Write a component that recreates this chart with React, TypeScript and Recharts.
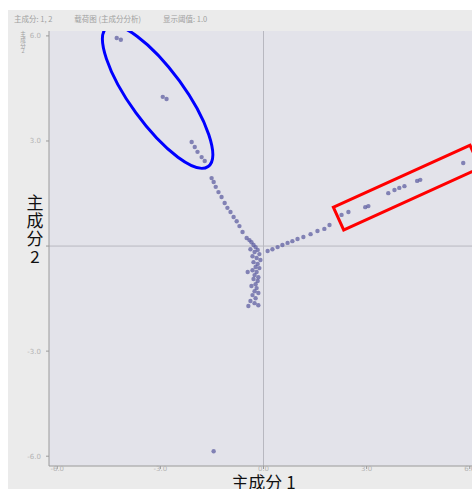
import React from "react";
import { ScatterChart, Scatter, XAxis, YAxis, CartesianGrid, ReferenceLine } from "recharts";

const blueGroupX = [-4.27, -4.15, -2.93, -2.82, -2.09, -2.0, -1.92, -1.8, -1.71];
const blueGroupY = [5.94, 5.89, 4.26, 4.2, 2.97, 2.83, 2.69, 2.54, 2.43];

const trailX = [-1.51, -1.45, -1.39, -1.31, -1.22, -1.13, -1.05, -0.96, -0.87, -0.78, -0.7, -0.61, -0.49];
const trailY = [1.94, 1.83, 1.69, 1.54, 1.4, 1.23, 1.09, 0.97, 0.83, 0.71, 0.57, 0.4, 0.23];

const clusterX = [-0.41, -0.35, -0.29, -0.23, -0.38, -0.17, -0.26, -0.12, -0.32, -0.2, -0.09, -0.29, -0.17, -0.23, -0.12, -0.32, -0.2, -0.26, -0.15, -0.29, -0.17, -0.23, -0.35, -0.2, -0.26, -0.15, -0.32, -0.23, -0.38, -0.26, -0.44, -0.15, -0.46];
const clusterY = [0.17, 0.11, 0.03, -0.03, -0.09, -0.11, -0.17, -0.23, -0.29, -0.34, -0.4, -0.46, -0.51, -0.6, -0.63, -0.69, -0.74, -0.83, -0.89, -0.94, -1.0, -1.09, -1.14, -1.2, -1.29, -1.34, -1.4, -1.49, -1.57, -1.63, -1.71, -1.69, -0.74];

const rightArmX = [0.12, 0.26, 0.41, 0.55, 0.7, 0.84, 0.99, 1.16, 1.37, 1.57, 1.77, 1.92];
const rightArmY = [-0.14, -0.09, -0.03, 0.03, 0.09, 0.14, 0.2, 0.26, 0.34, 0.43, 0.49, 0.6];

const redGroupX = [2.27, 2.47, 2.96, 3.05, 3.63, 3.81, 3.95, 4.1, 4.47, 4.56, 5.81];
const redGroupY = [0.89, 0.97, 1.11, 1.14, 1.51, 1.6, 1.66, 1.71, 1.86, 1.89, 2.37];

const outlierX = [-1.45];
const outlierY = [-5.86];

const xTicks = [-6, -3, 0, 3, 6];
const yTicks = [-6, -3, 0, 3, 6];

const ellipseCenter = [{ x: -3.08, y: 4.26 }];
const boxCenter = [{ x: 4.17, y: 1.67 }];

const headerParts = ["主成分: 1, 2", "载荷图 (主成分分析)", "显示阈值: 1.0"];
const xLabel = "主成分 1";
const yLabelChars = ["主", "成", "分", "2"];
const miniYLabelChars = ["主", "成", "分", "2"];

const zip = (xs: number[], ys: number[]) => xs.map((x, i) => ({ x, y: ys[i] }));

const points = [
  ...zip(blueGroupX, blueGroupY),
  ...zip(trailX, trailY),
  ...zip(clusterX, clusterY),
  ...zip(rightArmX, rightArmY),
  ...zip(redGroupX, redGroupY),
  ...zip(outlierX, outlierY),
];

const Dot = (props: any) => {
  const { cx, cy } = props;
  if (cx == null || cy == null) return null;
  return <circle cx={cx} cy={cy} r={2.2} fill="#5c5ca0" fillOpacity={0.72} />;
};

const EllipseShape = (props: any) => {
  const { cx, cy } = props;
  if (cx == null || cy == null) return null;
  return (
    <ellipse
      cx={cx}
      cy={cy}
      rx={86}
      ry={27}
      transform={`rotate(54 ${cx} ${cy})`}
      fill="none"
      stroke="#0000ff"
      strokeWidth={3}
    />
  );
};

const BoxShape = (props: any) => {
  const { cx, cy } = props;
  if (cx == null || cy == null) return null;
  const w = 150;
  const h = 25;
  return (
    <rect
      x={cx - w / 2}
      y={cy - h / 2}
      width={w}
      height={h}
      transform={`rotate(-24.4 ${cx} ${cy})`}
      fill="none"
      stroke="#ff0000"
      strokeWidth={3}
    />
  );
};

const YLabel = (props: any) => {
  const vb = props.viewBox || { x: 0, y: 21, width: 41, height: 435 };
  const x = 27;
  const startY = vb.y + 178;
  return (
    <g>
      {yLabelChars.map((c, i) => (
        <text
          key={i}
          x={x}
          y={startY + i * 18}
          textAnchor="middle"
          fontSize={17}
          fill="#111"
          fontFamily="'Noto Sans CJK SC', sans-serif"
        >
          {c}
        </text>
      ))}
      <text x={15} y={vb.y + 5} textAnchor="middle" fontSize={5.5} fill="#a0a0a0" fontFamily="'Noto Sans CJK SC', sans-serif">
        {miniYLabelChars.map((c, i) => (
          <tspan key={i} x={15} dy={i === 0 ? 0 : 5.8}>
            {c}
          </tspan>
        ))}
      </text>
    </g>
  );
};

const XLabel = (props: any) => {
  const vb = props.viewBox || { x: 41, y: 456, width: 429, height: 30 };
  return (
    <text
      x={vb.x + vb.width / 2}
      y={vb.y + 23}
      textAnchor="middle"
      fontSize={17}
      fill="#111"
      fontFamily="'Noto Sans CJK SC', sans-serif"
    >
      {xLabel}
    </text>
  );
};

const tickStyle = { fontSize: 7, fill: "#b4b4b4", fontFamily: "DejaVu Sans, sans-serif" };

export default function App() {
  return (
    <div
      style={{
        position: "fixed",
        left: 8,
        top: 10,
        width: 464,
        height: 479,
        overflow: "hidden",
        background: "#ebebeb",
      }}
    >
      <div
        style={{
          position: "absolute",
          left: 6,
          top: 3,
          fontSize: 7.5,
          color: "#a0a0a0",
          fontFamily: "'Noto Sans CJK SC', sans-serif",
          whiteSpace: "nowrap",
          display: "flex",
          gap: 22,
        }}
      >
        {headerParts.map((p, i) => (
          <span key={i}>{p}</span>
        ))}
      </div>
      <ScatterChart width={480} height={490} margin={{ top: 21, right: 10, bottom: 4, left: 0 }}>
        <CartesianGrid horizontal={false} vertical={false} fill="#e3e3ea" stroke="none" />
        <XAxis
          type="number"
          dataKey="x"
          domain={[-6.24, 6.24]}
          ticks={xTicks}
          allowDataOverflow
          height={30}
          tick={{ ...tickStyle, dy: -5 }}
          tickFormatter={(v: number) => v.toFixed(1)}
          axisLine={{ stroke: "#9a9a9a" }}
          tickLine={{ stroke: "#9a9a9a" }}
          tickSize={3}
          label={<XLabel />}
        />
        <YAxis
          type="number"
          dataKey="y"
          domain={[-6.28, 6.14]}
          ticks={yTicks}
          allowDataOverflow
          width={41}
          tick={{ ...tickStyle, dx: -3 }}
          tickFormatter={(v: number) => (v === 0 ? "" : v.toFixed(1))}
          axisLine={{ stroke: "#9a9a9a" }}
          tickLine={{ stroke: "#9a9a9a" }}
          tickSize={3}
          label={<YLabel />}
        />
        <ReferenceLine x={0} stroke="#b8b8c0" strokeWidth={1} />
        <ReferenceLine y={0} stroke="#b8b8c0" strokeWidth={1} />
        <Scatter data={points} shape={<Dot />} isAnimationActive={false} />
        <Scatter data={ellipseCenter} shape={<EllipseShape />} isAnimationActive={false} />
        <Scatter data={boxCenter} shape={<BoxShape />} isAnimationActive={false} />
      </ScatterChart>
    </div>
  );
}
